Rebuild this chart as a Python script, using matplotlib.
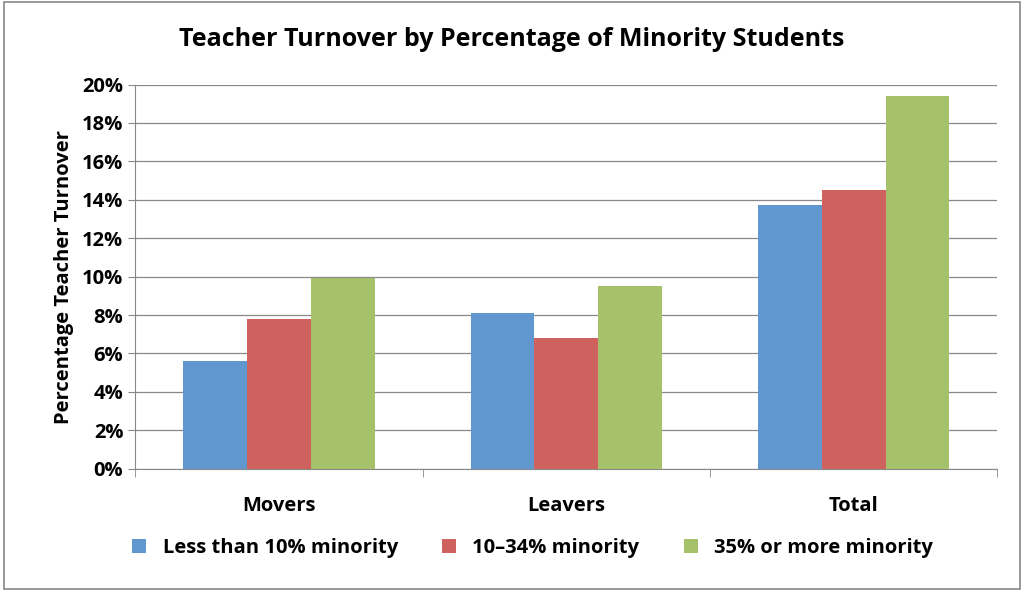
import matplotlib
matplotlib.use("Agg")
import matplotlib.pyplot as plt
import numpy as np
from matplotlib.patches import Rectangle

categories = ["Movers", "Leavers", "Total"]
series_names = ["Less than 10% minority", "10\u201334% minority", "35% or more minority"]
less10 = [5.6, 8.1, 13.75]
mid = [7.8, 6.8, 14.5]
more35 = [9.95, 9.5, 19.4]
colors = ["#6097CE", "#CF625E", "#A5C26A"]

plt.rcParams["font.family"] = "Open Sans"
fig = plt.figure(figsize=(10.24, 5.91), dpi=100)
fig.patches.append(Rectangle((0.004, 0.004), 0.992, 0.992, transform=fig.transFigure,
                             fill=False, edgecolor="#888888", lw=1.2))
ax = fig.add_axes([0.132, 0.207, 0.842, 0.65])
x = np.arange(len(categories))
w = 0.222
for i, (vals, c, n) in enumerate(zip([less10, mid, more35], colors, series_names)):
    ax.bar(x + (i - 1) * w, vals, w, color=c, label=n, zorder=3)
ax.set_xlim(-0.5, 2.5)
ax.set_ylim(0, 20)
ax.set_yticks(range(0, 21, 2))
ax.set_yticklabels([f"{v}%" for v in range(0, 21, 2)], fontsize=14.5, fontweight="bold")
ax.set_xticks(x)
ax.set_xticklabels(categories, fontsize=14.5, fontweight="bold")
ax.set_xticks([-0.5, 0.5, 1.5, 2.5], minor=True)
ax.tick_params(axis="x", which="major", length=0, pad=20)
ax.tick_params(axis="x", which="minor", length=6, color="#888888")
ax.tick_params(axis="y", length=5, color="#888888")
ax.grid(axis="y", color="#888888", lw=0.9, zorder=0)
for s in ["top", "right"]:
    ax.spines[s].set_visible(False)
for s in ["left", "bottom"]:
    ax.spines[s].set_color("#888888")
ax.set_ylabel("Percentage Teacher Turnover", fontsize=14.5, fontweight="bold", labelpad=6)
fig.suptitle("Teacher Turnover by Percentage of Minority Students", fontsize=18,
             fontweight="bold", y=0.955)
fig.legend(loc="lower center", bbox_to_anchor=(0.52, 0.025), ncol=3, frameon=False,
           prop={"size": 14.5, "weight": "bold"}, handlelength=0.7, handleheight=0.7,
           columnspacing=2.2)
fig.savefig("out.png", dpi=100)
